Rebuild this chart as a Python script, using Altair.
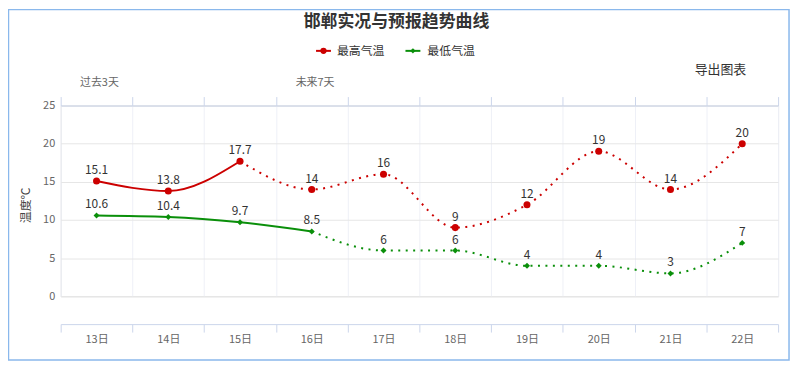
import altair as alt
import pandas as pd

# ---- data ----
days = ["13日", "14日", "15日", "16日", "17日", "18日", "19日", "20日", "21日", "22日"]
high = [15.1, 13.8, 17.7, 14, 16, 9, 12, 19, 14, 20]
low = [10.6, 10.4, 9.7, 8.5, 6, 6, 4, 4, 3, 7]
high_observed = 3   # solid through 15日
low_observed = 4    # solid through 16日
series_names = ["最高气温", "最低气温"]
series_colors = ["#cc0000", "#0a8f0a"]
top_labels = ["过去3天", "未来7天"]
y_ticks = [0, 5, 10, 15, 20, 25]

FONT = "Noto Sans CJK SC"


def frame(vals):
    return pd.DataFrame({"day": days, "v": vals, "lab": [f"{v:g}" for v in vals]})


hi = frame(high)
lo = frame(low)
hi_solid, hi_dot = hi.iloc[:high_observed], hi.iloc[high_observed - 1:]
lo_solid, lo_dot = lo.iloc[:low_observed], lo.iloc[low_observed - 1:]

xscale = alt.Scale(type="band", domain=days, paddingInner=0, paddingOuter=0)
yscale = alt.Scale(domain=[0, 25], nice=False, zero=True)

x_none = alt.X("day:N", scale=xscale, axis=None)
y_none = alt.Y("v:Q", scale=yscale, axis=None)

top_axis = alt.Axis(orient="top", grid=True, gridColor="#eef0f7", tickBand="extent",
                    ticks=True, tickSize=9, tickColor="#ccd6eb", domainColor="#ccd6eb",
                    labels=False, title=None)
bottom_axis = alt.Axis(orient="bottom", offset=28, grid=False, tickBand="extent",
                       ticks=True, tickSize=8, tickColor="#ccd6eb", domainColor="#ccd6eb",
                       labelColor="#666666", labelFontSize=11, labelPadding=2, labelFont=FONT,
                       labelAngle=0, title=None)
left_axis = alt.Axis(orient="left", grid=True, gridColor="#e6e6e6", domain=False, ticks=False,
                     values=y_ticks, labelColor="#666666", labelFontSize=11, labelPadding=6,
                     labelFont=FONT, title="温度℃", titleFont=FONT, titleFontSize=12,
                     titleColor="#444444", titleFontWeight="normal", titleAngle=-90,
                     titleX=-35, titleY=100, titleAlign="center", titleBaseline="middle")

dot = [2, 5.5]

hi_line_solid = alt.Chart(hi_solid).mark_line(color=series_colors[0], strokeWidth=2,
                                              interpolate="monotone").encode(
    x=alt.X("day:N", scale=xscale, axis=top_axis), y=alt.Y("v:Q", scale=yscale, axis=left_axis))
hi_line_dot = alt.Chart(hi_dot).mark_line(color=series_colors[0], strokeWidth=2,
                                          strokeDash=dot, interpolate="monotone").encode(
    x=alt.X("day:N", scale=xscale, axis=bottom_axis), y=y_none)
lo_line_solid = alt.Chart(lo_solid).mark_line(color=series_colors[1], strokeWidth=2,
                                              interpolate="monotone").encode(x=x_none, y=y_none)
lo_line_dot = alt.Chart(lo_dot).mark_line(color=series_colors[1], strokeWidth=2,
                                          strokeDash=dot, interpolate="monotone").encode(x=x_none, y=y_none)

hi_pts = alt.Chart(hi).mark_point(shape="circle", filled=True, size=50, opacity=1,
                                  color=series_colors[0]).encode(x=x_none, y=y_none)
lo_pts = alt.Chart(lo).mark_point(shape="diamond", filled=True, size=36, opacity=1,
                                  color=series_colors[1]).encode(x=x_none, y=y_none)

hi_lab = alt.Chart(hi).mark_text(dy=-11, fontSize=12, color="#333333", font=FONT,
                                 baseline="middle").encode(x=x_none, y=y_none, text="lab:N")
lo_lab = alt.Chart(lo).mark_text(dy=-11, fontSize=12, color="#333333", font=FONT,
                                 baseline="middle").encode(x=x_none, y=y_none, text="lab:N")

one = pd.DataFrame({"a": [0]})


def txt(s, x, y, size=12, color="#333333", weight="normal", align="center"):
    return alt.Chart(one).mark_text(text=s, fontSize=size, color=color, fontWeight=weight,
                                    font=FONT, align=align, baseline="middle").encode(
        x=alt.value(x), y=alt.value(y))


title = txt("邯郸实况与预报趋势曲线", 338, -84.5, size=17, weight="bold")
export = txt("导出图表", 664, -36, size=13)
past = txt(top_labels[0], 39, -23, size=11, color="#666666")
future = txt(top_labels[1], 256, -23, size=11, color="#666666")

leg_hi_line = alt.Chart(one).mark_rule(color=series_colors[0], strokeWidth=2).encode(
    x=alt.value(257), x2=alt.value(272), y=alt.value(-55))
leg_hi_pt = alt.Chart(one).mark_point(shape="circle", filled=True, size=40, opacity=1,
                                      color=series_colors[0]).encode(x=alt.value(264.5), y=alt.value(-55))
leg_hi_txt = txt(series_names[0], 278, -55, size=12, align="left")
leg_lo_line = alt.Chart(one).mark_rule(color=series_colors[1], strokeWidth=2).encode(
    x=alt.value(347), x2=alt.value(362), y=alt.value(-55))
leg_lo_pt = alt.Chart(one).mark_point(shape="diamond", filled=True, size=30, opacity=1,
                                      color=series_colors[1]).encode(x=alt.value(354.5), y=alt.value(-55))
leg_lo_txt = txt(series_names[1], 369, -55, size=12, align="left")

border = alt.Chart(one).mark_rect(fill="transparent", stroke="#8ab8ec", strokeWidth=1.5).encode(
    x=alt.value(-52.5), x2=alt.value(733), y=alt.value(-96.5), y2=alt.value(256))

chart = alt.layer(
    border, hi_line_solid, hi_line_dot, lo_line_solid, lo_line_dot,
    hi_pts, lo_pts, hi_lab, lo_lab,
    title, export, past, future,
    leg_hi_line, leg_hi_pt, leg_hi_txt, leg_lo_line, leg_lo_pt, leg_lo_txt,
).resolve_axis(x="independent", y="independent").properties(
    width=722, height=192,
    autosize=alt.AutoSizeParams(type="none"),
    padding={"left": 53, "top": 97, "right": 14, "bottom": 67},
).configure_view(stroke=None).configure(background="white")

chart.save("out.html", embed_options={"renderer": "svg", "actions": False})
